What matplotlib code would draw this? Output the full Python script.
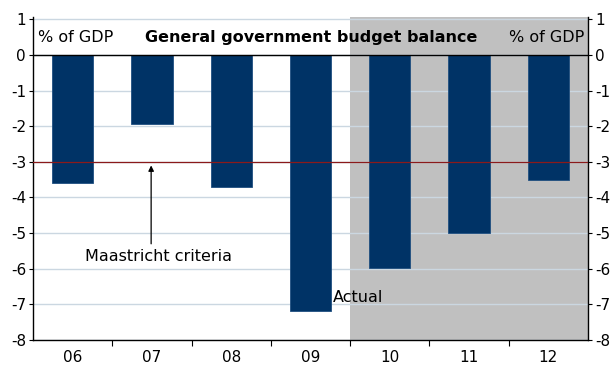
import matplotlib
matplotlib.use("Agg")
import matplotlib.pyplot as plt

years = ["06", "07", "08", "09", "10", "11", "12"]
balance = [-3.6, -1.94, -3.7, -7.18, -5.98, -5.0, -3.5]
yticks = [1, 0, -1, -2, -3, -4, -5, -6, -7, -8]
maastricht = -3.0
forecast_start = 3.5

plt.rcParams['font.family'] = ['DejaVu Sans']

fig = plt.figure(figsize=(6.16, 3.65), dpi=100)
ax = fig.add_axes([33/616, 1-340/365, (588-33)/616, (340-16.7)/365])

x = list(range(len(years)))
ax.set_xlim(-0.5, len(years) - 0.5)
ax.set_ylim(-8, 1.075)

ax.axvspan(forecast_start, len(years) - 0.5, color="#C0C0C0", zorder=0, lw=0)
for t in yticks:
    ax.axhline(t, color="#CBD7E1", lw=1.0, zorder=1)
ax.bar(x, balance, width=0.52, color="#003366", edgecolor="#1F4F80", lw=0.6, zorder=2)
ax.axhline(0, color="black", lw=1.0, zorder=3)
ax.axhline(maastricht, color="#8B1A1A", lw=0.9, zorder=3)

ax.set_yticks(yticks)
ax.set_yticklabels([str(t) for t in yticks])
ax.tick_params(axis="y", which="both", direction="out", length=3, labelsize=11,
               left=True, right=True, labelleft=True, labelright=True, pad=2)
ax.set_xticks([i + 0.5 for i in x[:-1]], minor=False)
ax.set_xticklabels([""] * (len(x) - 1))
ax.set_xticks(x, minor=True)
ax.set_xticklabels(years, minor=True)
ax.tick_params(axis="x", which="major", direction="out", length=4)
ax.tick_params(axis="x", which="minor", length=0, labelsize=11, pad=7)

for s in ["left", "right", "bottom"]:
    ax.spines[s].set_color("black")
    ax.spines[s].set_linewidth(1.0)
ax.spines["top"].set_visible(False)

ax.text(0.009, 0.5, "% of GDP", fontsize=11.5, ha="left", va="center",
        transform=ax.get_yaxis_transform())
ax.text(0.993, 0.5, "% of GDP", fontsize=11.5, ha="right", va="center",
        transform=ax.get_yaxis_transform())
ax.text(0.502, 0.5, "General government budget balance", fontsize=11.5,
        fontweight="bold", ha="center", va="center",
        transform=ax.get_yaxis_transform())

ax.annotate("", xy=(0.99, -3.1), xytext=(0.99, -5.3),
            arrowprops=dict(arrowstyle="-|>", color="black", lw=0.9,
                            mutation_scale=8, shrinkA=0, shrinkB=0), zorder=4)
ax.text(1.08, -5.65, "Maastricht criteria", fontsize=11.5, ha="center", va="center")
ax.text(3.28, -6.8, "Actual", fontsize=11.5, ha="left", va="center", zorder=4)

fig.savefig("out.png", dpi=100)
